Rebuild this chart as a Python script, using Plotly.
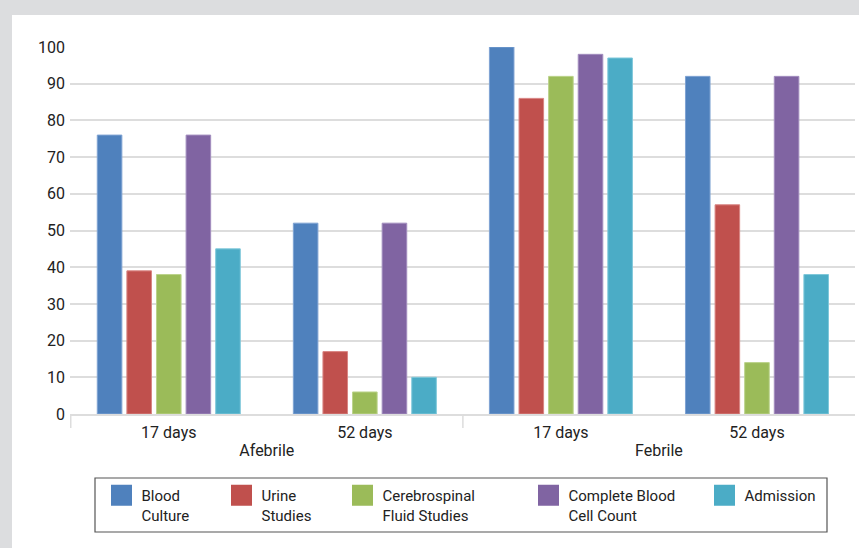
import plotly.graph_objects as go

groups = ["Afebrile", "Afebrile", "Febrile", "Febrile"]
durations = ["17 days", "52 days", "17 days", "52 days"]

series_names = ["Blood<br>Culture", "Urine<br>Studies", "Cerebrospinal<br>Fluid Studies",
                "Complete Blood<br>Cell Count", "Admission"]
blood_culture = [76, 52, 100, 92]
urine_studies = [39, 17, 86, 57]
csf_studies = [38, 6, 92, 14]
cbc = [76, 52, 98, 92]
admission = [45, 10, 97, 38]
series_values = [blood_culture, urine_studies, csf_studies, cbc, admission]

colors = ["#4F81BD", "#C0504D", "#9BBB59", "#8064A2", "#4BACC6"]
edge = ["#7FA3D3", "#D98583", "#BBD38B", "#A28DBE", "#7FC8DA"]

y_ticks = list(range(0, 101, 10))

W, H = 859, 548
L, R, T, B = 70, 4, 47, 134
pw, ph = W - L - R, H - T - B

fig = go.Figure()
for name, vals, c, e in zip(series_names, series_values, colors, edge):
    fig.add_trace(go.Bar(x=[groups, durations], y=vals, name=name,
                         marker=dict(color=c, line=dict(color=e, width=1)),
                         showlegend=False))

legend_ids = ["legend", "legend2", "legend3", "legend4", "legend5"]
swatch_left_px = [111, 231, 352, 538, 714]
font = "Roboto, Arial, sans-serif"
legend_layouts = {}
for name, c, lid, sx in zip(series_names, colors, legend_ids, swatch_left_px):
    fig.add_trace(go.Scatter(x=[None], y=[None], mode="markers", name=name, legend=lid,
                             marker=dict(symbol="square", size=16, color=c,
                                         line=dict(color=c, width=5))))
    legend_layouts[lid] = dict(xref="container", yref="container",
                               x=(sx + 10.5 - 20) / W, xanchor="left",
                               y=1 - 479 / H, yanchor="top", valign="top",
                               bgcolor="rgba(0,0,0,0)", borderwidth=0,
                               font=dict(family=font, size=15, color="#222"),
                               itemclick=False, itemdoubleclick=False)

shapes = [
    dict(type="rect", xref="paper", yref="paper", x0=(12 - L) / pw, x1=(W + 5 - L) / pw,
         y0=-1, y1=(H - B - 15) / ph, fillcolor="white", line=dict(width=0), layer="below"),
    dict(type="rect", xref="paper", yref="paper", x0=(95 - L) / pw, x1=(827 - L) / pw,
         y0=((H - B) - 532) / ph, y1=((H - B) - 478) / ph,
         line=dict(color="#555", width=1.2), fillcolor="rgba(0,0,0,0)"),
]
for bx in [-0.5, 1.5]:
    shapes.append(dict(type="line", xref="x", yref="paper", x0=bx, x1=bx,
                       ysizemode="pixel", yanchor=0, y0=0, y1=-14,
                       line=dict(color="#DDDDDD", width=1.5)))

fig.update_layout(
    width=W, height=H,
    margin=dict(l=L, r=R, t=T, b=B, autoexpand=False),
    paper_bgcolor="#DCDDDF", plot_bgcolor="white",
    barmode="group", bargap=0.245, bargroupgap=0.17,
    font=dict(family=font, size=15, color="#222"),
    shapes=shapes,
    **legend_layouts,
)
fig.update_yaxes(range=[0, 100], tickvals=y_ticks, showgrid=True, gridcolor="#DDDDDD",
                 gridwidth=1.5, zeroline=False, showline=False, ticks="",
                 ticklabelstandoff=4, tickfont=dict(size=16, color="#222"))
fig.update_xaxes(showline=True, linecolor="#DDDDDD", linewidth=1.5, showgrid=False,
                 showdividers=False, ticklabelstandoff=3,
                 tickfont=dict(size=16, color="#222"))

fig.write_html("out.html", config={"displayModeBar": False},
               post_script="document.body.style.margin='0px';")
